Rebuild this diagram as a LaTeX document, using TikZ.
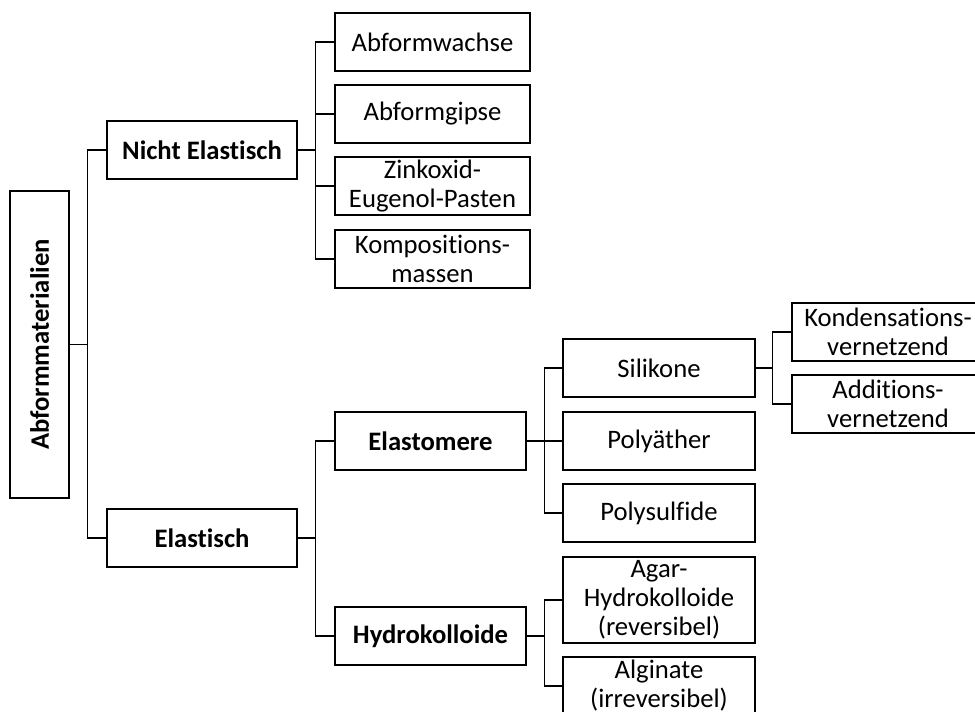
\documentclass[tikz,border=0pt]{standalone}
\usepackage{fontspec}
\setmainfont{Carlito}[Ligatures=NoCommon]

\begin{document}
\begin{tikzpicture}[x=0.75pt,y=-0.75pt,
    box/.style ={draw, line width=1.4pt, inner sep=0pt, align=center,
      font=\fontsize{20}{21.75}\selectfont},
    category/.style ={box, font=\fontsize{20}{21.75}\selectfont\bfseries,
      minimum width=142.5pt, minimum height=43.5pt},
    group/.style ={category, minimum width=143.25pt},
    material/.style ={box, minimum width=146.25pt, minimum height=43.5pt},
    kind/.style ={box, minimum width=144pt, minimum height=43.5pt},
    branch/.style ={line width=0.8pt}]
   \useasboundingbox (0,0) rectangle (975,711);
   \clip (0,0) rectangle (975,711);

   \node[box,rotate=90,font=\fontsize{20}{21.75}\selectfont\bfseries,
     minimum width=230.25pt, minimum height=44.25pt] (root) at (39.5,344.5) {Abformmaterialien};

   \node[category] (nicht) at (202,150) {Nicht Elastisch};
   \node[category] (elast) at (202,538) {Elastisch};

   \node[material] (wachse) at (432.5,42)  {Abformwachse};
   \node[material] (gipse)  at (432.5,114) {Abformgipse};
   \node[material] (zink)   at (432.5,186) {Zinkoxid-\\Eugenol-Pasten};
   \node[material] (kompo)  at (432.5,259) {Kompositions-\\massen};

   \node[group] (elasto) at (430.5,441) {Elastomere};
   \node[group] (hydro)  at (430.5,636) {Hydrokolloide};

   \node[kind] (silikon) at (659,368) {Silikone};
   \node[kind] (polyae)  at (659,441) {Polyäther};
   \node[kind] (polysu)  at (659,513) {Polysulfide};
   \node[kind,minimum height=64.5pt] (agar) at (659,600) {Agar-\\Hydrokolloide\\(reversibel)};
   \node[kind] (algin)   at (659,686) {Alginate\\(irreversibel)};

   \node[kind] (konden) at (888,332) {Kondensations-\\vernetzend};
   \node[kind] (addit)  at (888,404) {Additions-\\vernetzend};

   \draw[branch] (nicht.west) -- ++(-19,0) |- (root.south);
   \draw[branch] (elast.west) -- ++(-19,0) |- (root.south);
   \foreach \child in {wachse,gipse,zink,kompo}
     \draw[branch] (\child.west) -- ++(-19,0) |- (nicht.east);
   \foreach \child in {elasto,hydro}
     \draw[branch] (\child.west) -- ++(-19,0) |- (elast.east);
   \foreach \child in {silikon,polyae,polysu}
     \draw[branch] (\child.west) -- ++(-18,0) |- (elasto.east);
   \foreach \child in {agar,algin}
     \draw[branch] (\child.west) -- ++(-18,0) |- (hydro.east);
   \foreach \child in {konden,addit}
     \draw[branch] (\child.west) -- ++(-19,0) |- (silikon.east);
 \end{tikzpicture}
\end{document}
